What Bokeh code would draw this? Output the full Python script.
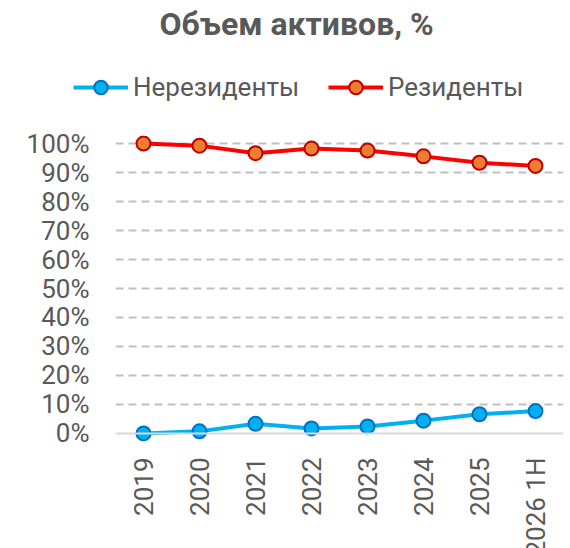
from bokeh.plotting import figure
from bokeh.layouts import column
from bokeh.models import (FactorRange, Range1d, FixedTicker, PrintfTickFormatter,
                          Legend, LegendItem, Span, Title)
from bokeh.embed import file_html
from bokeh.resources import INLINE
import math

categories = ["2019", "2020", "2021", "2022", "2023", "2024", "2025", "2026 1H"]
nonresidents = [0.0, 0.7, 3.3, 1.7, 2.4, 4.4, 6.6, 7.7]
residents = [100.0, 99.3, 96.7, 98.3, 97.6, 95.6, 93.4, 92.3]
y_ticks = [0, 10, 20, 30, 40, 50, 60, 70, 80, 90, 100]
series_names = ["Нерезиденты", "Резиденты"]

FONT = "Roboto"
TXT = "#595959"
BLUE_LINE, BLUE_FILL, BLUE_EDGE = "#00B0F0", "#00B0F0", "#0070C0"
RED_LINE, RED_FILL, RED_EDGE = "#FF0000", "#ED7D31", "#C00000"

# ---------- header: title + legend ----------
head = figure(width=570, height=110, x_range=FactorRange(factors=categories),
              y_range=Range1d(1000, 1001),
              x_axis_type=None, y_axis_type=None,
              min_border_left=0, min_border_right=0, min_border_top=0, min_border_bottom=0,
              output_backend="svg", toolbar_location=None, title=None)
try:
    head.frame_align = False
except Exception:
    pass
head.outline_line_color = None
head.grid.visible = False
head.title = Title(text="Объем активов, %", align="left", offset=159,
                   text_font=FONT, text_font_size="32px", text_font_style="bold",
                   text_color=TXT, standoff=4)
hl1 = head.line(categories, nonresidents, line_color=BLUE_LINE, line_width=4, visible=False)
hs1 = head.scatter(categories, nonresidents, size=14, fill_color=BLUE_FILL,
                   line_color=BLUE_EDGE, line_width=2, visible=False)
hl2 = head.line(categories, residents, line_color=RED_LINE, line_width=4, visible=False)
hs2 = head.scatter(categories, residents, size=14, fill_color=RED_FILL,
                   line_color=RED_EDGE, line_width=2, visible=False)
legend = Legend(items=[LegendItem(label=series_names[0], renderers=[hl1, hs1]),
                       LegendItem(label=series_names[1], renderers=[hl2, hs2])],
                orientation="horizontal", location=(73, 6),
                glyph_width=55, glyph_height=34, label_height=30,
                label_standoff=5, spacing=29, padding=0, margin=0,
                label_text_font=FONT, label_text_font_size="26px",
                label_text_color=TXT, border_line_color=None,
                background_fill_alpha=0, inactive_fill_alpha=0,
                click_policy="none")
head.add_layout(legend, "center")

# ---------- chart ----------
p = figure(x_range=FactorRange(factors=categories, range_padding=0),
           y_range=Range1d(-2.8, 102.8),
           frame_width=448, frame_height=306,
           min_border_left=115, min_border_right=7, min_border_top=25, min_border_bottom=0,
           output_backend="svg", toolbar_location=None, title=None)
try:
    p.frame_align = False
except Exception:
    pass
p.outline_line_color = None

p.yaxis.ticker = FixedTicker(ticks=y_ticks)
p.yaxis.formatter = PrintfTickFormatter(format="%d%%")
p.yaxis.axis_line_color = None
p.yaxis.major_tick_line_color = None
p.yaxis.minor_tick_line_color = None
p.yaxis.major_label_standoff = 20
p.yaxis.major_label_text_font = FONT
p.yaxis.major_label_text_font_size = "26px"
p.yaxis.major_label_text_color = TXT

p.xaxis.axis_line_color = None
p.xaxis.major_tick_line_color = None
p.xaxis.minor_tick_line_color = None
p.xaxis.major_label_orientation = math.pi / 2
p.xaxis.major_label_standoff = 10
p.xaxis.major_label_text_font = FONT
p.xaxis.major_label_text_font_size = "26px"
p.xaxis.major_label_text_color = TXT

p.xgrid.grid_line_color = None
p.ygrid.ticker = FixedTicker(ticks=y_ticks[1:])
p.ygrid.grid_line_color = "#BFBFBF"
p.ygrid.grid_line_width = 2
p.ygrid.grid_line_dash = "8 5"
p.add_layout(Span(location=0, dimension="width", line_color="#D9D9D9", line_width=2))

p.line(categories, nonresidents, line_color=BLUE_LINE, line_width=4)
p.scatter(categories, nonresidents, size=14, fill_color=BLUE_FILL,
          line_color=BLUE_EDGE, line_width=2)
p.line(categories, residents, line_color=RED_LINE, line_width=4)
p.scatter(categories, residents, size=14, fill_color=RED_FILL,
          line_color=RED_EDGE, line_width=2)

layout = column(head, p, spacing=0)
open("out.html", "w").write(file_html(layout, INLINE))
